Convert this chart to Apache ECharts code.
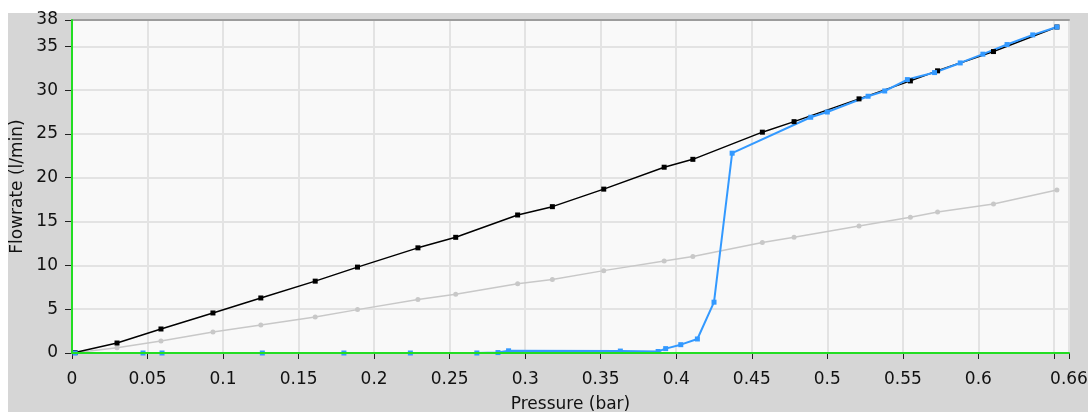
<!DOCTYPE html>
<html>
<head>
<meta charset="utf-8">
<title>Flowrate vs Pressure</title>
<script src="https://cdn.jsdelivr.net/npm/echarts@6/dist/echarts.min.js"></script>
<style>
  body { margin: 0; background: #fff; }
  /* 灰色面板 */
  #panel {
    position: absolute;
    left: 8px;
    top: 13px;
    width: 1080px;
    height: 399px;
    background: #d6d6d6;
  }
  #chart {
    position: absolute;
    left: 0;
    top: 0;
    width: 1088px;
    height: 412px;
  }
</style>
</head>
<body>
<div id="panel"></div>
<div id="chart"></div>
<script>
// 黑线 / 灰线 共用的压力点
const refPressure = [0.002, 0.0298, 0.0589, 0.0933, 0.125, 0.161, 0.189, 0.229, 0.254, 0.295, 0.318,
  0.352, 0.392, 0.411, 0.457, 0.478, 0.521, 0.555, 0.573, 0.610, 0.652]
const blackFlow = [0.05, 1.14, 2.74, 4.57, 6.28, 8.2, 9.8, 12.0, 13.2, 15.75, 16.7,
  18.7, 21.2, 22.1, 25.2, 26.4, 29.0, 31.05, 32.2, 34.4, 37.2]
const grayFlow = [0.02, 0.6, 1.37, 2.4, 3.2, 4.1, 4.95, 6.1, 6.7, 7.9, 8.4,
  9.4, 10.5, 11.0, 12.6, 13.2, 14.5, 15.5, 16.1, 17.0, 18.6]
// 蓝线
const bluePressure = [0.002, 0.047, 0.0596, 0.126, 0.180, 0.224, 0.268, 0.282, 0.289,
  0.363, 0.388, 0.393, 0.403, 0.414, 0.425, 0.437,
  0.489, 0.500, 0.527, 0.538, 0.553, 0.571, 0.588, 0.603, 0.619, 0.636, 0.652]
const blueFlow = [0, 0, 0, 0, 0, 0, 0, 0.05, 0.25,
  0.22, 0.17, 0.5, 0.95, 1.6, 5.8, 22.8,
  26.9, 27.5, 29.3, 29.9, 31.2, 32.0, 33.1, 34.1, 35.2, 36.3, 37.2]
// 坐标轴范围
const xMax = 0.66
const yMax = 38

const pairs = (xs, ys) => xs.map((x, i) => [x, ys[i]])

const font = 'DejaVu Sans'
const green = '#22dd22'

const chart = echarts.init(document.getElementById('chart'))
const option = {
  animation: false,
  backgroundColor: 'transparent',
  grid: {
    left: 72,
    top: 20,
    right: 19,
    bottom: 59,
    // 标签不挤压绘图区
    outerBoundsMode: 'none',
    show: true,
    backgroundColor: '#f9f9f9',
    borderWidth: 0
  },
  xAxis: [
    // 刻度 + 标签
    {
      type: 'value',
      position: 'bottom',
      min: 0,
      max: xMax,
      interval: 0.05,
      offset: 6,
      name: 'Pressure (bar)',
      nameLocation: 'middle',
      nameGap: 37,
      nameTextStyle: { color: '#111', fontFamily: font, fontSize: 17 },
      axisLine: { show: false },
      axisTick: { length: 6, lineStyle: { color: '#222', width: 1 } },
      axisLabel: {
        margin: 12,
        color: '#111',
        fontFamily: font,
        fontSize: 17,
        // 0.65 与 0.66 重叠，只显示 0.66
        formatter: v => Math.abs(v - 0.65) < 1e-6 ? '' : String(v)
      },
      splitLine: { lineStyle: { color: '#e3e3e3', width: 2 } }
    },
    // 绿色底线
    {
      type: 'value',
      position: 'bottom',
      min: 0,
      max: xMax,
      z: 5,
      axisLine: { lineStyle: { color: green, width: 2 } },
      axisTick: { show: false },
      axisLabel: { show: false },
      splitLine: { show: false }
    },
    // 顶部边框
    {
      type: 'value',
      position: 'top',
      min: 0,
      max: xMax,
      axisLine: { lineStyle: { color: '#9c9c9c', width: 2 } },
      axisTick: { show: false },
      axisLabel: { show: false },
      splitLine: { show: false }
    }
  ],
  yAxis: [
    {
      type: 'value',
      position: 'left',
      min: 0,
      max: yMax,
      interval: 5,
      offset: 5,
      name: 'Flowrate (l/min)',
      nameLocation: 'middle',
      nameGap: 41,
      nameMoveOverlap: false,
      nameTextStyle: { color: '#111', fontFamily: font, fontSize: 17 },
      axisLine: { show: false },
      axisTick: { length: 7, lineStyle: { color: '#222', width: 1 } },
      axisLabel: { margin: 9, color: '#111', fontFamily: font, fontSize: 17 },
      splitLine: { lineStyle: { color: '#e3e3e3', width: 2 } }
    },
    // 绿色左线
    {
      type: 'value',
      position: 'left',
      min: 0,
      max: yMax,
      z: 5,
      axisLine: { show: true, lineStyle: { color: green, width: 2 } },
      axisTick: { show: false },
      axisLabel: { show: false },
      splitLine: { show: false }
    }
  ],
  series: [
    {
      name: 'gray',
      type: 'line',
      data: pairs(refPressure, grayFlow),
      symbol: 'circle',
      symbolSize: 5,
      itemStyle: { color: '#c8c8c8' },
      lineStyle: { color: '#c8c8c8', width: 1.5 }
    },
    {
      name: 'black',
      type: 'line',
      data: pairs(refPressure, blackFlow),
      symbol: 'rect',
      symbolSize: 5,
      itemStyle: { color: '#000' },
      lineStyle: { color: '#000', width: 1.5 }
    },
    {
      name: 'blue',
      type: 'line',
      data: pairs(bluePressure, blueFlow),
      symbol: 'rect',
      symbolSize: 5,
      itemStyle: { color: '#3399ff' },
      lineStyle: { color: '#3399ff', width: 2 }
    }
  ]
}
chart.setOption(option)
window.addEventListener('resize', chart.resize)
</script>
</body>
</html>
